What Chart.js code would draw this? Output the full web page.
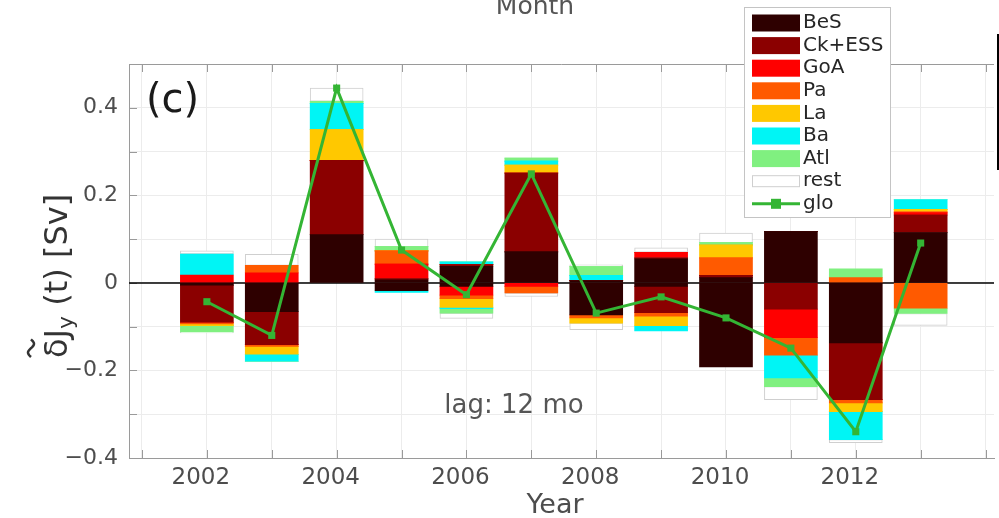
<!DOCTYPE html>
<html>
<head>
<meta charset="utf-8">
<script src="https://cdn.jsdelivr.net/npm/chart.js@4.4.1/dist/chart.umd.min.js"></script>
<style>
  html, body { margin: 0; padding: 0; background: #fff; }
</style>
</head>
<body>
<canvas id="chart" width="999" height="518"></canvas>
<script>
const years = [2002, 2003, 2004, 2005, 2006, 2007, 2008, 2009, 2010, 2011, 2012, 2013];

// positive and negative parts of each region, Sv
const besUp   = [0, 0, 0.11, 0.007, 0.038, 0.071, 0.005, 0.055, 0.012, 0.117, 0, 0.115];
const besDown = [-0.005, -0.066, 0, -0.018, -0.008, 0, -0.073, -0.008, -0.192, 0, -0.137, 0];
const ckUp    = [0, 0, 0.17, 0.003, 0.004, 0.18, 0, 0.003, 0.005, 0, 0, 0.04];
const ckDown  = [-0.085, -0.075, 0, 0, 0, 0, 0, -0.06, 0, -0.06, -0.13, 0];
const goaUp   = [0.018, 0.023, 0, 0.033, 0, 0, 0, 0.012, 0, 0, 0, 0.005];
const goaDown = [0, 0, 0, 0, -0.02, -0.008, 0, 0, 0, -0.065, 0, 0];
const paUp    = [0, 0.017, 0, 0.03, 0, 0, 0, 0, 0.04, 0, 0.012, 0.003];
const paDown  = [-0.004, -0.004, 0, 0, -0.008, -0.015, -0.007, -0.008, 0, -0.04, -0.007, -0.058];
const laUp    = [0, 0, 0.07, 0, 0, 0.018, 0, 0, 0.03, 0, 0, 0.005];
const laDown  = [-0.004, -0.018, 0, 0, -0.02, 0, -0.012, -0.022, 0, 0, -0.02, 0];
const baUp    = [0.048, 0, 0.06, 0, 0.006, 0.009, 0.012, 0, 0, 0, 0, 0.022];
const baDown  = [0, -0.016, 0, -0.004, -0.003, 0, 0, -0.012, 0, -0.052, -0.064, 0];
const atlUp   = [0, 0, 0.005, 0.01, 0, 0.007, 0.02, 0, 0.005, 0, 0.02, 0];
const atlDown = [-0.014, 0, 0, 0, -0.01, 0, 0, 0, 0, -0.02, 0, -0.012];
const restUp  = [0.007, 0.025, 0.03, 0.017, 0, 0, 0.004, 0.01, 0.022, 0, 0, 0];
const restDown = [-0.002, 0, 0, 0, -0.012, -0.008, -0.015, 0, 0, -0.03, -0.007, -0.027];

const glo = [-0.043, -0.12, 0.445, 0.075, -0.027, 0.249, -0.069, -0.032, -0.08, -0.149, -0.34, 0.091];

const regionNames = ['BeS', 'Ck+ESS', 'GoA', 'Pa', 'La', 'Ba', 'Atl', 'rest'];
const regionColors = ['#2e0000', '#8b0000', '#ff0000', '#ff5a00', '#ffc800', '#00f5f5', '#80f080', '#ffffff'];
const regionUp = [besUp, ckUp, goaUp, paUp, laUp, baUp, atlUp, restUp];
const regionDown = [besDown, ckDown, goaDown, paDown, laDown, baDown, atlDown, restDown];
const yTickLabels = [-0.4, -0.2, 0, 0.2, 0.4];
const xTickLabels = [2002, 2004, 2006, 2008, 2010, 2012];

const gloColor = '#34b534';
const font = '"DejaVu Sans", sans-serif';

function points(values) {
    return years.map((yr, i) => ({ x: yr, y: values[i] }));
}

// one dataset for the positive part and one for the negative part of each region
const datasets = [];
regionNames.forEach((name, i) => {
    [regionUp[i], regionDown[i]].forEach(values => {
        datasets.push({
            type: 'bar',
            label: name,
            data: points(values),
            backgroundColor: regionColors[i],
            borderColor: name === 'rest' ? '#cfcfcf' : regionColors[i],
            borderWidth: name === 'rest' ? 1 : 0,
            borderSkipped: false,
            barThickness: 53,
            stack: 'bars',
            order: 1
        });
    });
});
datasets.push({
    type: 'line',
    label: 'glo',
    data: points(glo),
    borderColor: gloColor,
    backgroundColor: gloColor,
    borderWidth: 3,
    pointStyle: 'rect',
    pointRadius: 5,
    pointBorderWidth: 0,
    stack: 'glo',
    order: 0
});

const extras = {
    id: 'extras',
    beforeDatasetsDraw(chart) {
        const { ctx, chartArea: a, scales: { x, y } } = chart;
        ctx.save();
        // inside tick marks
        ctx.strokeStyle = '#9a9a9a';
        ctx.lineWidth = 1;
        ctx.beginPath();
        for (let yr = 2001; yr <= 2014; yr++) {
            const px = Math.round(x.getPixelForValue(yr)) + 0.5;
            ctx.moveTo(px, a.bottom); ctx.lineTo(px, a.bottom - 8);
            ctx.moveTo(px, a.top); ctx.lineTo(px, a.top + 8);
        }
        for (let k = -4; k <= 5; k++) {
            const py = Math.round(y.getPixelForValue(k / 10)) + 0.5;
            ctx.moveTo(a.left, py); ctx.lineTo(a.left + 8, py);
        }
        // top border
        ctx.moveTo(a.left, a.top + 0.5); ctx.lineTo(a.right, a.top + 0.5);
        ctx.stroke();
        // zero line
        const y0 = y.getPixelForValue(0);
        ctx.strokeStyle = '#000';
        ctx.lineWidth = 1.5;
        ctx.beginPath();
        ctx.moveTo(a.left, y0); ctx.lineTo(a.right, y0);
        ctx.stroke();
        ctx.restore();
    },
    afterDraw(chart) {
        const ctx = chart.ctx;
        ctx.save();

        // panel label, lag note, titles
        ctx.textBaseline = 'alphabetic';
        ctx.textAlign = 'left';
        ctx.fillStyle = '#1a1a1a';
        ctx.font = '40px ' + font;
        ctx.fillText('(c)', 146, 112);

        ctx.textAlign = 'center';
        ctx.fillStyle = '#555';
        ctx.font = '26px ' + font;
        ctx.fillText('lag: 12 mo', 514, 413);
        ctx.font = '25px ' + font;
        ctx.fillText('Month', 535, 14);
        ctx.fillStyle = '#4d4d4d';
        ctx.font = '27px ' + font;
        ctx.fillText('Year', 555, 513);

        // y axis title with tilde and subscript
        ctx.save();
        ctx.translate(67, 358);
        ctx.rotate(-Math.PI / 2);
        ctx.textAlign = 'left';
        ctx.fillStyle = '#333';
        ctx.font = '32px ' + font;
        const wDelta = ctx.measureText('δ').width;
        ctx.fillText('δJ', 0, 0);
        let cx = ctx.measureText('δJ').width;
        ctx.font = '22px ' + font;
        ctx.fillText('y', cx, 6);
        cx += ctx.measureText('y').width;
        ctx.font = '32px ' + font;
        ctx.fillText(' (t) [Sv]', cx, 0);
        ctx.strokeStyle = '#333';
        ctx.lineWidth = 2.5;
        ctx.beginPath();
        for (let i = 0; i <= 20; i++) {
            const t = i / 20;
            const px = 1 + t * (wDelta - 2);
            const py = -36 - 3 * Math.sin(t * 2 * Math.PI);
            if (i === 0) ctx.moveTo(px, py); else ctx.lineTo(px, py);
        }
        ctx.stroke();
        ctx.restore();

        // legend
        ctx.fillStyle = '#fff';
        ctx.fillRect(744, 7, 146, 210);
        ctx.strokeStyle = '#c4c4c4';
        ctx.lineWidth = 1;
        ctx.strokeRect(744.5, 7.5, 146, 210);
        ctx.textAlign = 'left';
        ctx.textBaseline = 'middle';
        ctx.font = '20px ' + font;
        regionNames.forEach((name, i) => {
            const cy = 23 + i * 22.6;
            ctx.fillStyle = regionColors[i];
            if (name === 'rest') {
                ctx.fillRect(752, cy - 6, 48, 12);
                ctx.strokeStyle = '#cfcfcf';
                ctx.strokeRect(752.5, cy - 5.5, 47, 11);
            } else {
                ctx.fillRect(752, cy - 8.5, 48, 17);
            }
            ctx.fillStyle = '#262626';
            ctx.fillText(name, 803, cy);
        });
        const gy = 23 + 8 * 22.6;
        ctx.strokeStyle = gloColor;
        ctx.lineWidth = 3;
        ctx.beginPath();
        ctx.moveTo(752, gy); ctx.lineTo(800, gy);
        ctx.stroke();
        ctx.fillStyle = gloColor;
        ctx.fillRect(771, gy - 5, 10, 10);
        ctx.fillStyle = '#262626';
        ctx.fillText('glo', 803, gy);

        // edge of the neighbouring panel
        ctx.strokeStyle = '#000';
        ctx.lineWidth = 2;
        ctx.beginPath();
        ctx.moveTo(998, 34); ctx.lineTo(998, 170);
        ctx.stroke();
        ctx.restore();
    }
};

new Chart(document.getElementById('chart'), {
    data: { datasets: datasets },
    options: {
        responsive: false,
        animation: false,
        layout: { padding: { top: 64, left: 0, right: 0, bottom: 0 } },
        plugins: { legend: { display: false }, tooltip: { enabled: false } },
        scales: {
            x: {
                type: 'linear',
                stacked: true,
                offset: false,
                min: 2000.8,
                max: 2014.13,
                afterFit: scale => { scale.height = 60; },
                grid: { color: '#ececec', drawTicks: false, offset: false },
                border: { display: true, color: '#9a9a9a' },
                ticks: {
                    stepSize: 1,
                    autoSkip: false,
                    includeBounds: false,
                    maxRotation: 0,
                    padding: 6,
                    labelOffset: -6,
                    color: '#4d4d4d',
                    font: { family: 'DejaVu Sans', size: 23 },
                    callback: v => xTickLabels.includes(v) ? String(v) : ''
                }
            },
            y: {
                stacked: true,
                min: -0.4,
                max: 0.5,
                afterFit: scale => { scale.width = 129; },
                grid: { color: '#ececec', drawTicks: false },
                border: { display: true, color: '#9a9a9a' },
                ticks: {
                    stepSize: 0.1,
                    autoSkip: false,
                    padding: 11,
                    color: '#4d4d4d',
                    font: { family: 'DejaVu Sans', size: 22 },
                    callback: v => {
                        const r = Math.round(v * 10) / 10;
                        if (!yTickLabels.includes(r)) return '';
                        return r === 0 ? '0' : r.toFixed(1).replace('-', '\u2212');
                    }
                }
            }
        }
    },
    plugins: [extras]
});
</script>
</body>
</html>
